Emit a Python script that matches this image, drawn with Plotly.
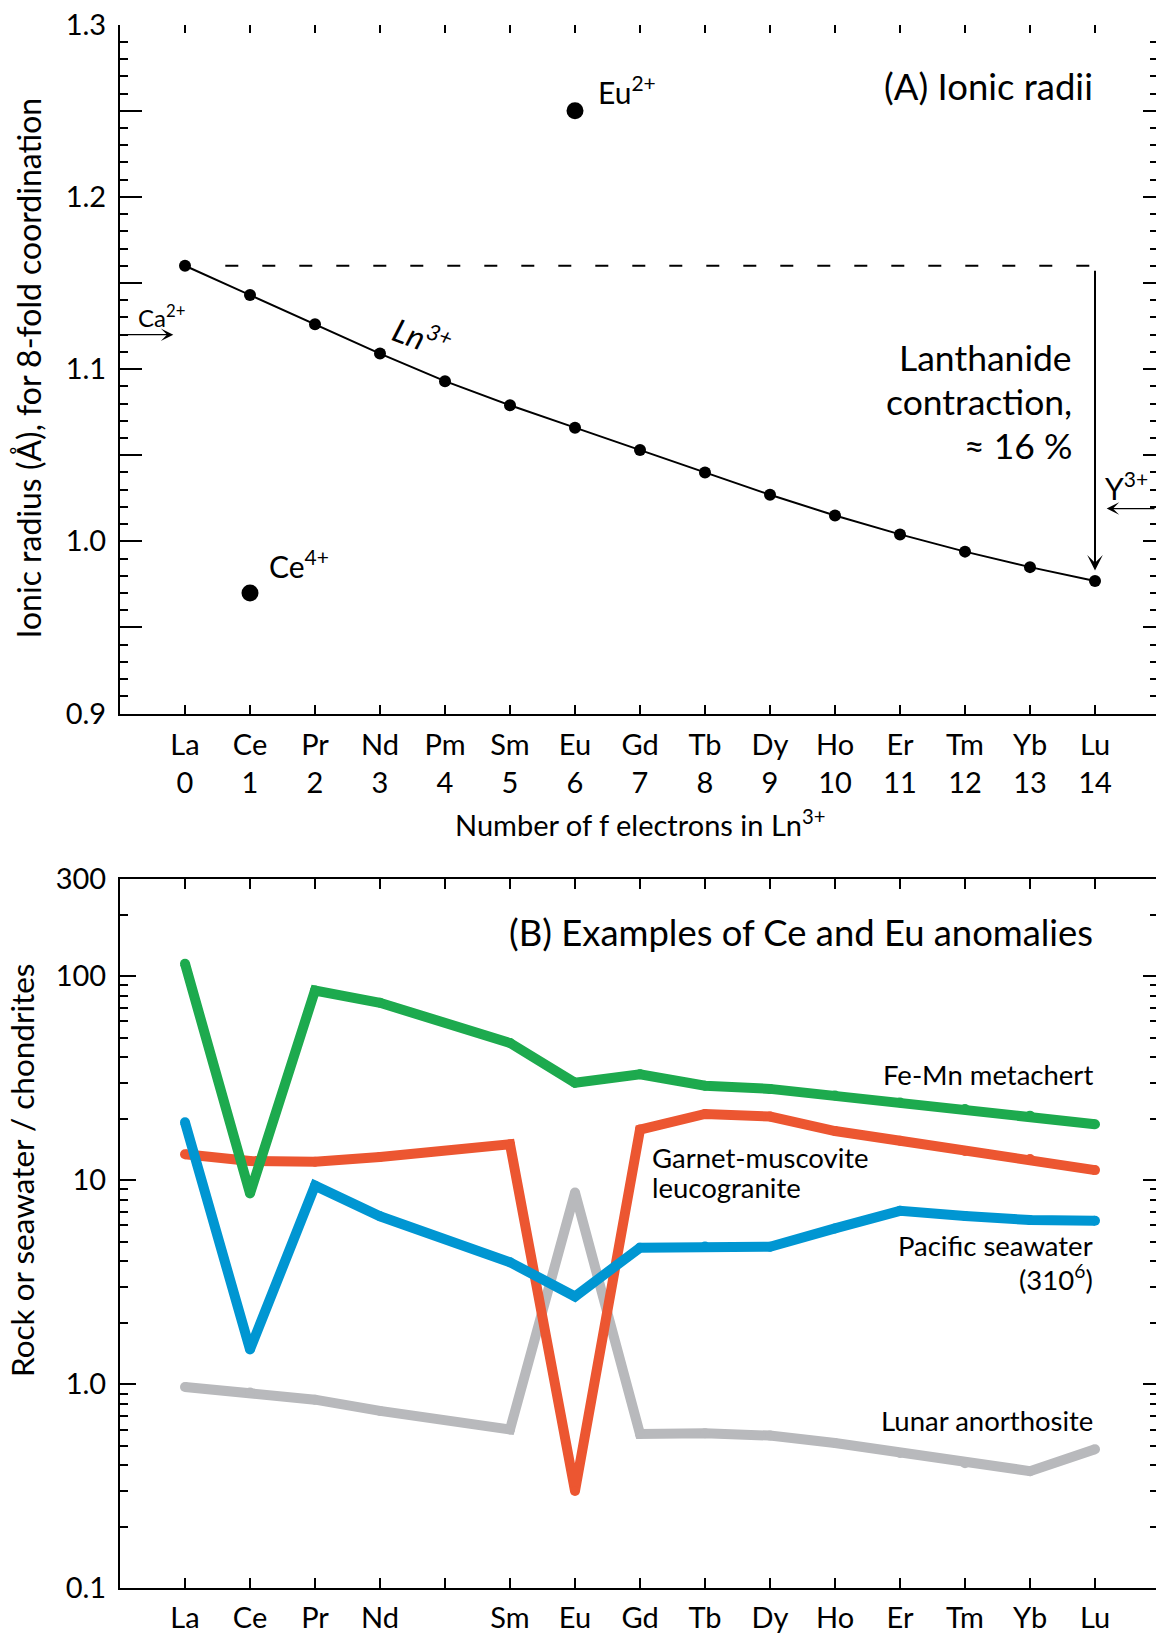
import plotly.graph_objects as go

# ---------------- data ----------------
elements = ["La", "Ce", "Pr", "Nd", "Pm", "Sm", "Eu", "Gd", "Tb", "Dy", "Ho", "Er", "Tm", "Yb", "Lu"]
f_electrons = list(range(15))

# (A) ionic radii, 8-fold coordination (Å)
ln3_radius = [1.160, 1.143, 1.126, 1.109, 1.093, 1.079, 1.066, 1.053, 1.040,
              1.027, 1.015, 1.004, 0.994, 0.985, 0.977]
eu2_radius = 1.25
ce4_radius = 0.97
ca2_radius = 1.12
y3_radius = 1.019

# (B) chondrite-normalised patterns (Pm not measured)
fe_mn_metachert = [115, 8.6, 85, 74, None, 47, 30, 33, 29, 28, 26, 24, 22.3, 20.7, 18.8]
leucogranite = [13.4, 12.4, 12.3, 13.0, None, 15.0, 0.30, 17.7, 21.1, 20.5, 17.4, 15.6, 13.9, 12.7, 11.2]
pacific_seawater = [19.2, 1.48, 9.4, 6.65, None, 3.96, 2.69, 4.67, 4.73, 4.72, 5.8, 7.07, 6.68, 6.37, 6.32]
lunar_anorthosite = [0.97, 0.91, 0.84, 0.74, None, 0.60, 8.7, 0.57, 0.575, 0.56, 0.515, 0.46, 0.41, 0.375, 0.48]

# ---------------- layout helpers ----------------
W, H = 1156, 1635
LEFT = 120
PLOT_W = W - LEFT
FONT = "Lato, 'Open Sans', sans-serif"
BLACK = "#000000"


def paper_x(px):
    return (px - LEFT) / PLOT_W


def paper_y(py):
    return 1 - py / H


x_range = [-1, -1 + PLOT_W / 65.0]
dom_a = [paper_y(713.5), paper_y(24.7)]
dom_b = [paper_y(1588.3), paper_y(878.7)]

fig = go.Figure()

# ---------------- panel A ----------------
fig.add_trace(go.Scatter(
    x=f_electrons, y=ln3_radius, mode="lines+markers",
    line=dict(color=BLACK, width=2), marker=dict(color=BLACK, size=12),
    xaxis="x", yaxis="y", showlegend=False, hoverinfo="skip"))
fig.add_trace(go.Scatter(
    x=[elements.index("Eu")], y=[eu2_radius], mode="markers",
    marker=dict(color=BLACK, size=17), xaxis="x", yaxis="y",
    showlegend=False, hoverinfo="skip"))
fig.add_trace(go.Scatter(
    x=[elements.index("Ce")], y=[ce4_radius], mode="markers",
    marker=dict(color=BLACK, size=17), xaxis="x", yaxis="y",
    showlegend=False, hoverinfo="skip"))

# ---------------- panel B ----------------
series_b = [
    (lunar_anorthosite, "#B8B9BC"),
    (leucogranite, "#EC5631"),
    (pacific_seawater, "#0096D2"),
    (fe_mn_metachert, "#1DAA4E"),
]
for vals, col in series_b:
    fig.add_trace(go.Scatter(
        x=f_electrons, y=vals, mode="lines+markers", connectgaps=True,
        line=dict(color=col, width=10), marker=dict(color=col, size=10),
        xaxis="x2", yaxis="y2", showlegend=False, hoverinfo="skip"))

# invisible anchors so the overlaid tick-only axes get drawn
for xa, ya in [("x3", "y"), ("x", "y3"), ("x", "y5"), ("x4", "y2"), ("x2", "y4")]:
    fig.add_trace(go.Scatter(x=[0], y=[1.0], xaxis=xa, yaxis=ya, mode="markers",
                             marker=dict(size=1, opacity=0), showlegend=False,
                             hoverinfo="skip"))

# ---------------- axes ----------------
axis_common = dict(showgrid=False, zeroline=False, tickcolor=BLACK, tickwidth=2,
                   ticks="inside", tickmode="array", automargin=False,
                   tickfont=dict(family=FONT, size=29, color=BLACK))

a_labelled = [0.9, 1.0, 1.1, 1.2, 1.3]
a_half = [0.95, 1.05, 1.15, 1.25]
a_major = sorted(a_labelled + a_half)
a_minor = [round(0.9 + 0.01 * i, 2) for i in range(1, 40) if i % 5]

b_major = [0.1, 1, 10, 100, 300]
b_labels = ["0.1", "1.0", "10", "100", "300"]
b_minor = [m * 10 ** e for e in (-1, 0, 1) for m in range(2, 10)] + [200]

b_ticks = [n for n, e in zip(f_electrons, elements) if e != "Pm"]
b_ticktext = [e for e in elements if e != "Pm"]


def minor(vals, length):
    return dict(tickmode="array", tickvals=vals, ticks="inside", ticklen=length,
                tickwidth=2, tickcolor=BLACK, showgrid=False)


fig.update_layout(
    template="none",
    width=W, height=H,
    margin=dict(l=LEFT, r=0, t=0, b=0, autoexpand=False),
    paper_bgcolor="white", plot_bgcolor="white",
    font=dict(family=FONT, color=BLACK),
    showlegend=False,
    # panel A
    xaxis=dict(axis_common, domain=[0, 1], anchor="y", range=x_range,
               tickvals=f_electrons,
               ticktext=[f"{e}<br>{n}" for e, n in zip(elements, f_electrons)],
               ticklen=9, ticklabelstandoff=5,
               showline=True, linewidth=2, linecolor=BLACK),
    yaxis=dict(axis_common, domain=dom_a, anchor="x", range=[0.9, 1.3],
               tickvals=a_labelled, ticktext=[f"{v:.1f}" for v in a_labelled],
               ticklen=22, ticklabelstandoff=6,
               showline=True, linewidth=2, linecolor=BLACK,
               minor=minor(a_minor, 8)),
    yaxis5=dict(axis_common, overlaying="y", anchor="x", side="left", range=[0.9, 1.3],
                tickvals=a_half, ticklen=22, showticklabels=False, showline=False),
    xaxis3=dict(axis_common, overlaying="x", anchor="y", side="top", range=x_range,
                tickvals=f_electrons, ticklen=8, showticklabels=False, showline=False),
    yaxis3=dict(axis_common, overlaying="y", anchor="x", side="right", range=[0.9, 1.3],
                tickvals=a_major, ticklen=13, showticklabels=False, showline=False,
                minor=minor(a_minor, 6)),
    # panel B
    xaxis2=dict(axis_common, domain=[0, 1], anchor="y2", range=x_range,
                tickvals=b_ticks, ticktext=b_ticktext,
                ticklen=10, ticklabelstandoff=3,
                showline=True, linewidth=2, linecolor=BLACK,
                minor=minor([elements.index("Pm")], 10)),
    yaxis2=dict(axis_common, domain=dom_b, anchor="x2", type="log",
                range=[-1, 2.4771], tickvals=b_major, ticktext=b_labels, ticklen=16,
                ticklabelstandoff=6,
                showline=True, linewidth=2, linecolor=BLACK,
                minor=minor(b_minor, 8)),
    xaxis4=dict(axis_common, overlaying="x2", anchor="y2", side="top", range=x_range,
                tickvals=f_electrons, ticklen=10, showticklabels=False,
                showline=True, linewidth=2, linecolor=BLACK),
    yaxis4=dict(axis_common, overlaying="y2", anchor="x2", side="right", type="log",
                range=[-1, 2.4771], tickvals=b_major, ticklen=13,
                showticklabels=False, showline=False,
                minor=minor(b_minor, 6)),
)

# dashed reference level at La
fig.add_shape(type="line", xref="x", yref="y", x0=0.62, x1=14,
              y0=ln3_radius[0], y1=ln3_radius[0],
              line=dict(color=BLACK, width=2, dash="13px,24px"))

# ---------------- annotations ----------------
def text(x, y, s, size, xanchor="left", xref="x", yref="y", **kw):
    fig.add_annotation(x=x, y=y, xref=xref, yref=yref, text=s, showarrow=False,
                       xanchor=xanchor, yanchor="middle",
                       font=dict(family=FONT, size=size, color=BLACK), **kw)


# arrows
fig.add_annotation(x=14, y=0.983, ax=14, ay=1.158, xref="x", yref="y",
                   axref="x", ayref="y", text="", showarrow=True,
                   arrowhead=3, arrowsize=1.3, arrowwidth=2, arrowcolor=BLACK)
fig.add_annotation(x=-0.18, y=ca2_radius, ax=-1, ay=ca2_radius, xref="x", yref="y",
                   axref="x", ayref="y", text="", showarrow=True,
                   arrowhead=3, arrowsize=1.6, arrowwidth=1.3, arrowcolor=BLACK)
fig.add_annotation(x=14.18, y=y3_radius, ax=x_range[1], ay=y3_radius, xref="x", yref="y",
                   axref="x", ayref="y", text="", showarrow=True,
                   arrowhead=3, arrowsize=1.6, arrowwidth=1.3, arrowcolor=BLACK)

# panel A texts
text(14, 1.2644, "(A) Ionic radii", 36.5, xanchor="right")
text(6.32, 1.262, "Eu<sup>2+</sup>", 30)
text(1.26, 0.987, "Ce<sup>4+</sup>", 30)
text(3.65, 1.119, "<i>Ln<sup>3+</sup></i>", 32, xanchor="center", textangle=20)
text(-0.76, 1.131, "Ca<sup>2+</sup>", 24)
text(14.12, 1.032, "Y<sup>3+</sup>", 30)
text(13.68, 1.1065, "Lanthanide", 35.5, xanchor="right")
text(13.68, 1.081, "contraction,", 35.5, xanchor="right")
text(13.68, 1.0554, "≈ 16 %", 35.5, xanchor="right")

# axis titles
fig.add_annotation(x=7, y=paper_y(823), xref="x", yref="paper",
                   text="Number of f electrons in Ln<sup>3+</sup>", showarrow=False,
                   xanchor="center", yanchor="middle",
                   font=dict(family=FONT, size=29, color=BLACK))
fig.add_annotation(x=paper_x(28), y=paper_y(368.5), xref="paper", yref="paper",
                   text="Ionic radius (Å), for 8-fold coordination", showarrow=False,
                   textangle=-90, xanchor="center", yanchor="middle",
                   font=dict(family=FONT, size=32, color=BLACK))
fig.add_annotation(x=paper_x(22), y=paper_y(1171), xref="paper", yref="paper",
                   text="Rock or seawater / chondrites", showarrow=False,
                   textangle=-90, xanchor="center", yanchor="middle",
                   font=dict(family=FONT, size=31.5, color=BLACK))

# panel B texts
def text_b(x, py, s, size, xanchor="right"):
    fig.add_annotation(x=x, y=paper_y(py), xref="x2", yref="paper", text=s,
                       showarrow=False, xanchor=xanchor, yanchor="middle",
                       font=dict(family=FONT, size=size, color=BLACK))


text_b(14, 932, "(B) Examples of Ce and Eu anomalies", 36.4)
text_b(14, 1074, "Fe-Mn metachert", 27.5)
text_b(7.15, 1157, "Garnet-muscovite", 27.5, xanchor="left")
text_b(7.15, 1187, "leucogranite", 27.5, xanchor="left")
text_b(14, 1245, "Pacific seawater", 27.5)
text_b(14, 1277, "(310<sup>6</sup>)", 27.5)
text_b(14, 1420, "Lunar anorthosite", 27.5)

fig.write_html("out.html")
